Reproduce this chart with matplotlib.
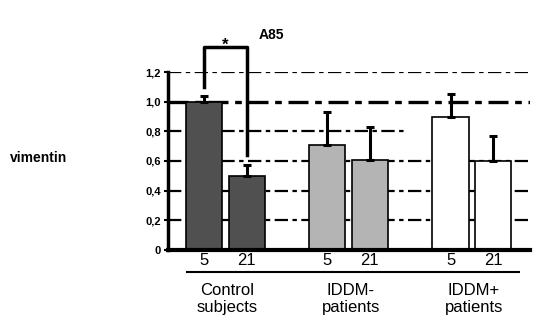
import matplotlib
matplotlib.use("Agg")
import matplotlib.pyplot as plt
import numpy as np

plt.rcParams['font.family'] = ['Liberation Sans', 'DejaVu Sans']

groups = ['Control\nsubjects', 'IDDM-\npatients', 'IDDM+\npatients']
days = ['5', '21']
values = [1.00, 0.50, 0.71, 0.61, 0.90, 0.60]
errors = [0.04, 0.07, 0.22, 0.22, 0.15, 0.17]
colors = ['#505050', '#505050', '#b4b4b4', '#b4b4b4', '#ffffff', '#ffffff']
yticks = [0, 0.2, 0.4, 0.6, 0.8, 1.0, 1.2]
ytick_labels = ['0', '0,2', '0,4', '0,6', '0,8', '1,0', '1,2']

group_gap = 2.9
pos = np.array([g * group_gap + d for g in range(3) for d in range(2)])

fig = plt.figure(figsize=(5.34, 3.36), dpi=100)
ax = fig.add_axes([168/534, 86/336, 362/534, 178/336])

# dash-dot reference lines
for yv in yticks[1:]:
    xmax = 0.66 if yv == 0.8 else 1.0
    lw = 2.4 if yv == 1.0 else 1.6
    ax.axhline(yv, xmax=xmax, color='black', lw=lw, ls=(0, (6, 2, 2, 2)), zorder=1)

ax.bar(pos, values, width=0.85, color=colors, edgecolor='black', lw=1.2, zorder=2)
ax.errorbar(pos, values, yerr=[np.zeros(len(errors)), errors], fmt='none',
            ecolor='black', elinewidth=2.2, capsize=3, capthick=2.2, zorder=3)

ax.set_xlim(-0.85, 7.67)
ax.set_ylim(0, 1.2)
ax.set_yticks(yticks)
ax.set_yticklabels(ytick_labels, fontsize=8, fontweight='bold')
ax.tick_params(axis='y', length=3, width=1.5, pad=2)
ax.set_xticks(pos)
ax.set_xticklabels(days * 3, fontsize=12)
ax.tick_params(axis='x', length=0, pad=2)
for s in ['top', 'right']:
    ax.spines[s].set_visible(False)
ax.spines['left'].set_linewidth(2.5)
ax.spines['bottom'].set_linewidth(3)

# line under the day labels and group names
ax.plot([pos[0] - 0.4, pos[-1] + 0.62], [-0.15, -0.15], color='black', lw=1.5, clip_on=False)
for g, name in enumerate(groups):
    ax.text(g * group_gap + 0.55, -0.225, name, ha='center', va='top', fontsize=12,
            linespacing=1.15)

# significance bracket between day 5 and day 21 controls
ax.plot([pos[0], pos[0], pos[1], pos[1]], [1.10, 1.37, 1.37, 0.64],
        color='black', lw=2.5, clip_on=False, zorder=4)
ax.text((pos[0] + pos[1]) / 2, 1.33, '*', ha='center', va='bottom', fontsize=12,
        fontweight='bold')

fig.text(271/534, 1 - 35/336, 'A85', ha='center', va='center', fontsize=10, fontweight='bold')
fig.text(10/534, 1 - 158/336, 'vimentin', ha='left', va='center', fontsize=10, fontweight='bold')

fig.savefig('out.png', dpi=100)
